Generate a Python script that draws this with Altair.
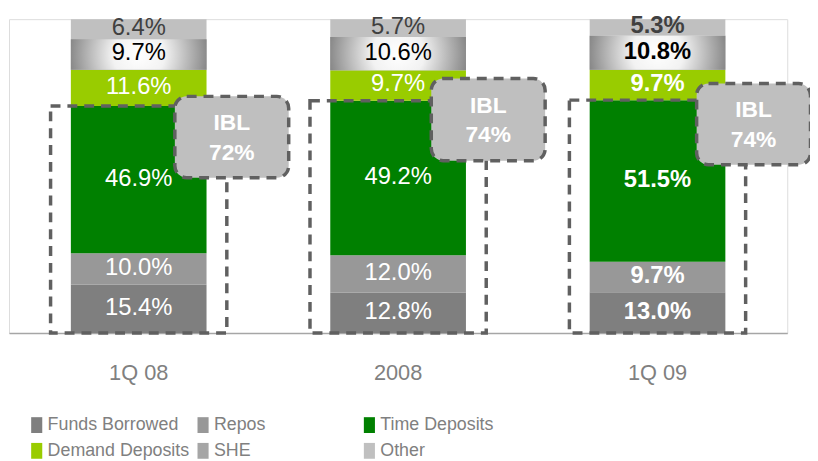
import altair as alt
import pandas as pd

periods = ["1Q 08", "2008", "1Q 09"]
series = ["Funds Borrowed", "Repos", "Time Deposits", "Demand Deposits", "SHE", "Other"]
funds_borrowed = [15.4, 12.8, 13.0]
repos = [10.0, 12.0, 9.7]
time_deposits = [46.9, 49.2, 51.5]
demand_deposits = [11.6, 9.7, 9.7]
she = [9.7, 10.6, 10.8]
other = [6.4, 5.7, 5.3]
ibl_labels = ["72%", "74%", "74%"]

colors = ["#7f7f7f", "#989898", "#008000", "#99cc00", "#a6a6a6", "#c0c0c0"]
label_colors = ["#ffffff", "#ffffff", "#ffffff", "#ffffff", "#000000", "#404040"]
bold_period = "1Q 09"

# annotation layout (pixel offsets / box extents in % units)
ibl_dx = [94, 91, 97]
ibl_box_top = [75.4, 81.1, 79.5]
ibl_box_bottom = [49.5, 54.9, 53.6]

vals = [funds_borrowed, repos, time_deposits, demand_deposits, she, other]
rows = []
for pi, p in enumerate(periods):
    base = 0.0
    for si, s in enumerate(series):
        v = vals[si][pi]
        rows.append({"period": p, "series": s, "value": v, "y0": base, "y1": base + v,
                     "mid": base + v / 2, "label": f"{v:.1f}%", "lc": label_colors[si],
                     "bold": p == bold_period})
        base += v
df = pd.DataFrame(rows)

ibl_rows = []
for pi, p in enumerate(periods):
    top = funds_borrowed[pi] + repos[pi] + time_deposits[pi]
    ibl_rows.append({"period": p, "top": top, "base": 0.0})
ibl_df = pd.DataFrame(ibl_rows)

FONT = "Liberation Sans, Arial, sans-serif"

xscale = alt.Scale(domain=periods, paddingInner=0.477, paddingOuter=0.2385)
yscale = alt.Scale(domain=[0, 100], nice=False)
xaxis = alt.Axis(title=None, ticks=False, labelFontSize=22, labelFont=FONT, labelColor="#808080",
                 labelAngle=0, domainColor="#a6a6a6", domainWidth=1.5, labelPadding=30, grid=False)
X = alt.X("period:N", sort=periods, scale=xscale, axis=xaxis)

bars = alt.Chart(df).mark_bar().encode(
    x=X,
    y=alt.Y("y0:Q", scale=yscale, axis=None),
    y2="y1:Q",
    color=alt.Color("series:N", scale=alt.Scale(domain=series, range=colors),
                    legend=alt.Legend(title=None, orient="none", legendX=19, legendY=401,
                                      columns=3, direction="horizontal", gridAlign="all",
                                      columnPadding=4, rowPadding=8, labelLimit=300,
                                      labelFont=FONT, labelFontSize=18, labelColor="#808080",
                                      symbolType="M-0.7,-1H0.7V1H-0.7Z", symbolSize=256,
                                      symbolStrokeWidth=0, labelOffset=2, padding=0, symbolOpacity=1)),
)

grad = alt.Gradient(gradient="radial", x1=0.5, y1=0.5, r1=0, x2=0.5, y2=0.5, r2=0.55,
                    stops=[alt.GradientStop(color="#ffffff", offset=0),
                           alt.GradientStop(color="#f2f2f2", offset=0.35),
                           alt.GradientStop(color="#7a7a7a", offset=1)])
she_bars = alt.Chart(df).transform_filter(alt.datum.series == "SHE").mark_bar(fill=grad).encode(
    x=X, y=alt.Y("y0:Q", scale=yscale, axis=None), y2="y1:Q")

box = alt.Chart(ibl_df).mark_bar(width=178, fill="#ffffff", fillOpacity=0, stroke="#606060",
                                 strokeWidth=3.5, strokeDash=[10, 7]).encode(
    x=X, y=alt.Y("base:Q", scale=yscale, axis=None), y2="top:Q")

labels_n = alt.Chart(df).transform_filter(alt.datum.bold == False).mark_text(
    font=FONT, fontSize=24, baseline="middle", align="center", dy=-1).encode(
    x=X, y=alt.Y("mid:Q", scale=yscale, axis=None), text="label:N", color=alt.Color("lc:N", scale=None))
labels_b = alt.Chart(df).transform_filter(alt.datum.bold == True).mark_text(
    font=FONT, fontSize=24, fontWeight="bold", baseline="middle", align="center", dy=-1).encode(
    x=X, y=alt.Y("mid:Q", scale=yscale, axis=None), text="label:N", color=alt.Color("lc:N", scale=None))

layers = [bars, she_bars, box, labels_n, labels_b]
for pi, p in enumerate(periods):
    bdf = pd.DataFrame([{"period": p, "b": ibl_box_bottom[pi], "t": ibl_box_top[pi],
                         "m": (ibl_box_bottom[pi] + ibl_box_top[pi]) / 2,
                         "txt": "IBL\n" + ibl_labels[pi]}])
    layers.append(alt.Chart(bdf).mark_bar(width=115, cornerRadius=12, fill="#bfbfbf", stroke="#606060",
                                          strokeWidth=3.5, strokeDash=[10, 7], xOffset=ibl_dx[pi]).encode(
        x=X, y=alt.Y("b:Q", scale=yscale, axis=None), y2="t:Q"))
    layers.append(alt.Chart(bdf).mark_text(font=FONT, fontSize=23, fontWeight="bold", color="#ffffff",
                                           lineBreak="\n", lineHeight=30, baseline="middle", dy=-14,
                                           xOffset=ibl_dx[pi]).encode(
        x=X, y=alt.Y("m:Q", scale=yscale, axis=None), text="txt:N"))

chart = alt.layer(*layers).properties(
    width=786, height=317,
    autosize=alt.AutoSizeParams(type="none"),
    padding={"left": 1, "top": 9, "right": 23, "bottom": 127},
).configure_view(stroke=None).configure(background="#ffffff")

chart.save("out.html", embed_options={"renderer": "svg", "actions": False})
